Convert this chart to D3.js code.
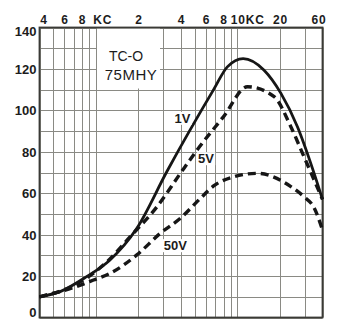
<!DOCTYPE html>
<html>
<head>
<meta charset="utf-8">
<script src="https://cdn.jsdelivr.net/npm/d3@7/dist/d3.min.js"></script>
<style>
  html, body { margin: 0; padding: 0; background: #fff; }
  svg { display: block; }
  text { font-family: "Liberation Sans", Arial, sans-serif; fill: #1c1c1c; }
</style>
</head>
<body>
<svg id="chart" width="341" height="321"></svg>
<script>
// Frequency response of the TC-O transformer (75 mH) at three drive levels
const freq1V  = [400, 560, 860, 1260, 1950, 3180, 6800, 8500, 11000, 15400, 20300, 26600, 34900, 40000];
const resp1V  = [10, 12.5, 19.7, 27.8, 43.1, 70.5, 110, 121, 125, 119.5, 108.3, 92.1, 69.6, 57];

const freq5V  = [400, 700, 1200, 1750, 2710, 3960, 5200, 8000, 11800, 18200, 23900, 29600, 34900, 40000];
const resp5V  = [10, 15.5, 26.9, 39, 53.5, 69.6, 80.9, 97, 111.4, 106.6, 92.1, 77.6, 66.4, 57];

const freq50V = [400, 700, 963, 1260, 1950, 2860, 3960, 5500, 6800, 9500, 13900, 23900, 29600, 34900, 40000];
const resp50V = [10, 14.5, 18.1, 21.3, 30.2, 40.7, 47.9, 57.6, 63.5, 68, 69.6, 63.2, 58.3, 53, 42.2];

const xTickValues = [400, 600, 800, 1000, 2000, 4000, 6000, 8000, 10000, 20000, 40000];
const xTickLabels = ["4", "6", "8", "KC", "2", "4", "6", "8", "10KC", "20", "60"];
const yTickValues = [0, 20, 40, 60, 80, 100, 120, 140];

const svg = d3.select("#chart");
const x = d3.scaleLog().domain([400, 40000]).range([39.5, 322.5]);
const y = d3.scaleLinear().domain([0, 140]).range([317.5, 27.5]);

// grid
const grid = svg.append("g").attr("stroke", "#8a8a84").attr("stroke-width", 1);
grid.selectAll("line.v").data(x.ticks()).join("line")
  .attr("x1", d => Math.round(x(d)) + 0.5).attr("x2", d => Math.round(x(d)) + 0.5)
  .attr("y1", y(140)).attr("y2", y(0));
grid.selectAll("line.h").data(y.ticks(14)).join("line")
  .attr("y1", d => Math.round(y(d)) + 0.5).attr("y2", d => Math.round(y(d)) + 0.5)
  .attr("x1", x(400)).attr("x2", x(40000));

// caption panel
svg.append("rect").attr("x", 97).attr("y", y(140) + 1).attr("width", 63).attr("height", 60).attr("fill", "#fff");
svg.append("text").attr("x", 126).attr("y", 61).attr("text-anchor", "middle")
  .style("font-size", "14px").text("TC-O");
svg.append("text").attr("x", 131).attr("y", 80).attr("text-anchor", "middle")
  .style("font-size", "15px").style("letter-spacing", "0.5px").text("75MHY");

// frame
svg.append("rect").attr("x", x(400)).attr("y", y(140))
  .attr("width", x(40000) - x(400)).attr("height", y(0) - y(140))
  .attr("fill", "none").attr("stroke", "#3a3a36").attr("stroke-width", 1.8);

// axes
const yAxis = svg.append("g").attr("transform", `translate(${x(400)},0)`)
  .call(d3.axisLeft(y).tickValues(yTickValues).tickSize(0).tickPadding(3));
yAxis.select(".domain").remove();
yAxis.selectAll("text").style("font-size", "13px").style("font-weight", "bold")
  .attr("dy", d => d === 140 ? "0.6em" : d === 0 ? "-0.05em" : "0.35em");

const xAxis = svg.append("g").attr("transform", `translate(0,${y(140)})`)
  .call(d3.axisTop(x).tickValues(xTickValues).tickSize(0).tickPadding(4)
    .tickFormat((d, i) => xTickLabels[i]));
xAxis.select(".domain").remove();
xAxis.selectAll("text").style("font-size", "12px").style("font-weight", "bold")
  .style("letter-spacing", "0.8px");
xAxis.selectAll(".tick").filter(d => d === 1000 || d === 10000)
  .select("text").attr("text-anchor", "start").attr("dx", d => d === 1000 ? -3 : -7);
xAxis.selectAll(".tick").filter(d => d === 400).select("text").attr("dx", 4);
xAxis.selectAll(".tick").filter(d => d === 40000).select("text").attr("dx", -4);

// curves
const line = d3.line().x(d => x(d[0])).y(d => y(d[1])).curve(d3.curveMonotoneX);
const series = [
  { f: freq50V, v: resp50V, dash: "8,5", w: 3.4 },
  { f: freq5V,  v: resp5V,  dash: "8,5", w: 3.4 },
  { f: freq1V,  v: resp1V,  dash: null,  w: 2.8 }
];
series.forEach(s => {
  svg.append("path").datum(s.f.map((f, i) => [f, s.v[i]]))
    .attr("d", line).attr("fill", "none").attr("stroke", "#161616")
    .attr("stroke-width", s.w).attr("stroke-dasharray", s.dash);
});

// curve labels
const labels = [
  { t: "1V", f: 4100, v: 94 },
  { t: "5V", f: 6000, v: 74.5 },
  { t: "50V", f: 3650, v: 32.5 }
];
labels.forEach(l => {
  const g = svg.append("g");
  const t = g.append("text").attr("x", x(l.f)).attr("y", y(l.v)).attr("text-anchor", "middle")
    .style("font-size", "13px").style("font-weight", "bold").text(l.t);
  const b = t.node().getBBox();
  g.insert("rect", "text").attr("x", b.x - 1).attr("y", b.y + 1).attr("width", b.width + 2)
    .attr("height", b.height - 2).attr("fill", "#fff");
});
</script>
</body>
</html>
